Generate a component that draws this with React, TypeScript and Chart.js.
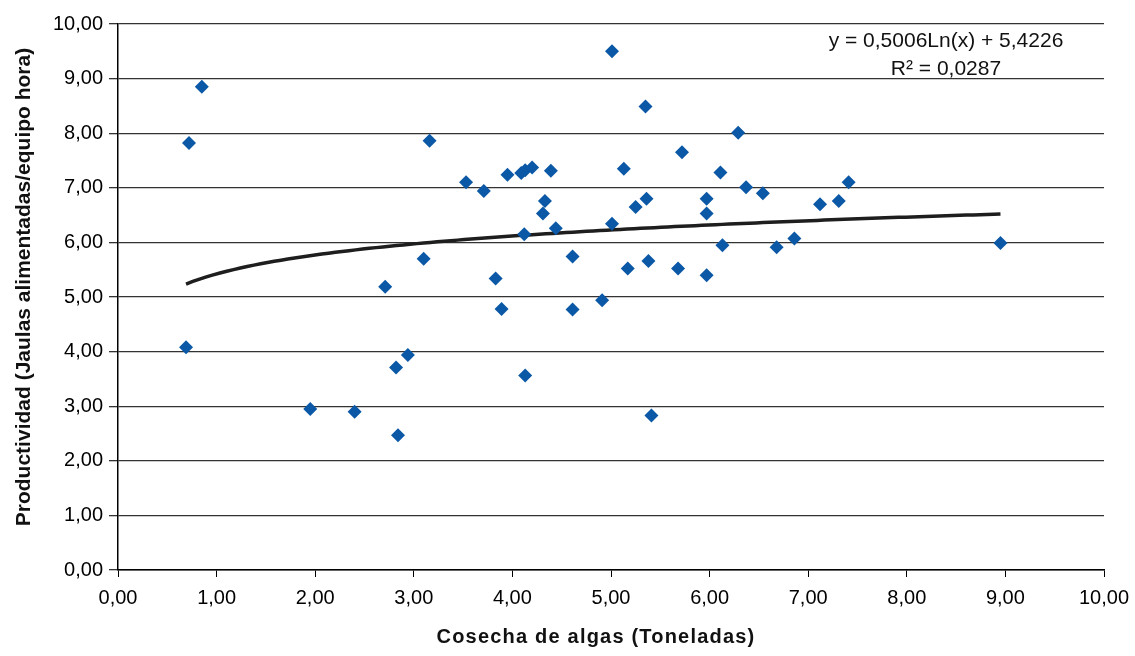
import React, { useEffect, useRef } from "react";
import { Chart, registerables } from "chart.js";

Chart.register(...registerables);

// Harvest (tonnes) and productivity (cages fed per crew-hour) per observation
const COSECHA = [
  0.69, 0.72, 0.85, 1.95, 2.40, 2.71, 2.82, 2.84, 2.94, 3.10,
  3.16, 3.53, 3.71, 3.83, 3.89, 3.95, 4.09, 4.13, 4.20, 4.12,
  4.13, 4.31, 4.33, 4.39, 4.44, 4.61, 4.61, 4.91, 5.01, 5.01,
  5.13, 5.17, 5.25, 5.35, 5.36, 5.38, 5.41, 5.68, 5.72, 5.97,
  5.97, 5.97, 6.11, 6.13, 6.29, 6.37, 6.54, 6.68, 6.86, 7.12,
  7.31, 7.41, 8.95,
];
const PRODUCTIVIDAD = [
  4.08, 7.82, 8.85, 2.95, 2.90, 5.19, 3.71, 2.47, 3.94, 5.70,
  7.86, 7.10, 6.94, 5.34, 4.78, 7.24, 7.27, 7.32, 7.37, 6.15,
  3.56, 6.53, 6.76, 7.31, 6.26, 5.74, 4.77, 4.94, 9.50, 6.34,
  7.35, 5.52, 6.65, 8.49, 6.80, 5.66, 2.83, 5.52, 7.65, 6.80,
  6.53, 5.40, 7.28, 5.95, 8.01, 7.01, 6.90, 5.91, 6.07, 6.70,
  6.76, 7.10, 5.99,
];

// Logarithmic trend line: y = a·ln(x) + b
const TREND_A = 0.5006;
const TREND_B = 5.4226;
const TREND_STEPS = 120;

const EQ_LINE_1 = "y = 0,5006Ln(x) + 5,4226";
const EQ_LINE_2 = "R² = 0,0287";
const X_TITLE = "Cosecha de algas (Toneladas)";
const Y_TITLE = "Productividad (Jaulas alimentadas/equipo hora)";

const FONT = "'Liberation Sans', Arial, Helvetica, sans-serif";
const fmt = (v: number) => v.toFixed(2).replace(".", ",");

const W = 1135;
const H = 656;

export default function App() {
  const ref = useRef<HTMLCanvasElement | null>(null);

  useEffect(() => {
    document.body.style.margin = "0";
    const canvas = ref.current;
    if (!canvas) return;

    const points = COSECHA.map((x, i) => ({ x, y: PRODUCTIVIDAD[i] }));
    const xMin = Math.min(...COSECHA);
    const xMax = Math.max(...COSECHA);
    const trend = Array.from({ length: TREND_STEPS + 1 }, (_, i) => {
      const x = xMin + ((xMax - xMin) * i) / TREND_STEPS;
      return { x, y: TREND_A * Math.log(x) + TREND_B };
    });

    const labelsPlugin = {
      id: "labels",
      afterDraw(chart: Chart) {
        const { ctx, chartArea } = chart;
        ctx.save();
        ctx.fillStyle = "#111";
        ctx.textAlign = "center";
        ctx.textBaseline = "middle";

        // trend equation, top-right of plot
        ctx.font = `21px ${FONT}`;
        const eqX = chartArea.right - 158;
        ctx.fillText(EQ_LINE_1, eqX, chartArea.top + 17);
        ctx.fillText(EQ_LINE_2, eqX, chartArea.top + 45);

        // x axis title
        ctx.font = `bold 20px ${FONT}`;
        (ctx as any).letterSpacing = "1.2px";
        ctx.fillText(X_TITLE, chartArea.left + 478, 637);
        (ctx as any).letterSpacing = "0px";

        // y axis title
        ctx.translate(24, chartArea.top + 263);
        ctx.rotate(-Math.PI / 2);
        ctx.font = `bold 21px ${FONT}`;
        ctx.fillText(Y_TITLE, 0, 0);
        ctx.restore();
      },
    };

    const chart = new Chart(canvas, {
      type: "scatter",
      data: {
        datasets: [
          {
            label: "Productividad",
            data: points,
            pointStyle: "rectRot",
            pointRadius: 7,
            pointHoverRadius: 7,
            backgroundColor: "#0b58a6",
            borderColor: "#0b58a6",
            borderWidth: 0,
            order: 1,
          },
          {
            label: "Tendencia",
            type: "line",
            data: trend,
            showLine: true,
            pointRadius: 0,
            borderColor: "#1e1e1e",
            borderWidth: 3.5,
            fill: false,
            order: 2,
          } as any,
        ],
      },
      options: {
        responsive: false,
        animation: false,
        layout: { padding: { left: 0, right: 31, top: 24, bottom: 0 } },
        plugins: {
          legend: { display: false },
          tooltip: { enabled: false },
        },
        scales: {
          x: {
            type: "linear",
            min: 0,
            max: 10,
            afterFit: (s: any) => {
              s.height = 86;
              s.paddingRight = 0;
            },
            ticks: {
              stepSize: 1,
              padding: 9,
              color: "#000",
              font: { family: FONT, size: 20 },
              callback: (v: any) => fmt(Number(v)),
              maxRotation: 0,
            },
            grid: {
              drawOnChartArea: false,
              drawTicks: true,
              tickLength: 7,
              color: "#000",
            },
            border: { display: true, color: "#000", width: 1.5 },
          },
          y: {
            type: "linear",
            min: 0,
            max: 10,
            afterFit: (s: any) => {
              s.width = 118;
            },
            ticks: {
              stepSize: 1,
              padding: 6,
              color: "#000",
              font: { family: FONT, size: 20 },
              callback: (v: any) => fmt(Number(v)),
            },
            grid: {
              drawTicks: true,
              tickLength: 9,
              color: "#333",
              lineWidth: 1.3,
            },
            border: { display: true, color: "#000", width: 1.5 },
          },
        },
      },
      plugins: [labelsPlugin],
    });

    return () => chart.destroy();
  }, []);

  return (
    <div style={{ position: "absolute", left: 0, top: 0, width: W, height: H, background: "#fff" }}>
      <canvas ref={ref} width={W} height={H} />
    </div>
  );
}
